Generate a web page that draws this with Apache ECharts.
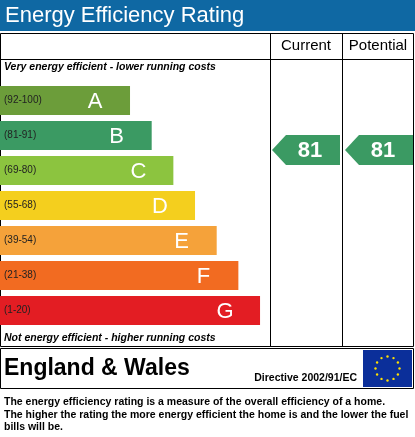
<!DOCTYPE html>
<html><head><meta charset="utf-8">
<script src="https://cdn.jsdelivr.net/npm/echarts@6/dist/echarts.min.js"></script>
<style>html,body{margin:0;padding:0;background:#fff}#c{width:415px;height:437px}</style>
</head><body><div id="c"></div>
<script>
const bands = ['A','B','C','D','E','F','G'];
const ranges = ['(92-100)','(81-91)','(69-80)','(55-68)','(39-54)','(21-38)','(1-20)'];
const rangeLo = [92,81,69,55,39,21,1];
const rangeHi = [100,91,80,68,54,38,20];
const barLengths = [6,7,8,9,10,11,12];
const bandColors = ['#6c9d3a','#3b9a63','#8cc43f','#f4cf1e','#f5a23a','#f26b21','#e31d23'];
const currentRating = 81;
const potentialRating = 81;
const arrowColor = '#3b9a63';

function bandOf(v){ for(let i=0;i<bands.length;i++) if(v>=rangeLo[i]) return i; return 6; }
const F = 'Liberation Sans, Arial, sans-serif';
const chart = echarts.init(document.getElementById('c'));
const arrowData = [[0, bandOf(currentRating), currentRating],[1, bandOf(potentialRating), potentialRating]];
const colX = [272, 345];

chart.setOption({
  animation:false,
  grid:{left:0, top:83, width:415, height:245},
  xAxis:{type:'value', min:0, max:415/21.67, show:false},
  yAxis:{type:'category', data:bands, inverse:true, show:false},
  series:[
    {type:'custom', data:barLengths.map((v,i)=>[v,i]),
     renderItem:function(p,api){
       const i=api.value(1); const end=api.coord([api.value(0),i]); const s=api.coord([0,i]);
       const h=29;
       return {type:'group',children:[
         {type:'rect',shape:{x:s[0],y:end[1]-h/2,width:end[0]-s[0],height:h},style:{fill:bandColors[i]}},
         {type:'text',style:{x:4,y:end[1],text:ranges[i],fill:'#222',font:'10px '+F,verticalAlign:'middle'}},
         {type:'text',style:{x:end[0]-35,y:end[1]+1,text:bands[i],fill:'#fff',font:'22px '+F,align:'center',verticalAlign:'middle'}}
       ]};
     }},
    {type:'custom', data:arrowData,
     renderItem:function(p,api){
       const col=api.value(0), b=api.value(1), v=api.value(2);
       const c=api.coord([0,b]);
       const frac=(rangeHi[b]-v)/(rangeHi[b]-rangeLo[b]);
       const yc=c[1]+(frac-0.5)*29;
       const x0=colX[col], w=68, h=30;
       return {type:'group',children:[
         {type:'polygon',shape:{points:[[x0,yc],[x0+14,yc-h/2],[x0+w,yc-h/2],[x0+w,yc+h/2],[x0+14,yc+h/2]]},style:{fill:arrowColor}},
         {type:'text',style:{x:x0+38,y:yc+1,text:String(v),fill:'#fff',font:'bold 22px '+F,align:'center',verticalAlign:'middle'}}
       ]};
     }}
  ],
  graphic:[
    {type:'rect',shape:{x:0,y:0,width:415,height:31},style:{fill:'#0f68a3'}},
    {type:'text',style:{x:5,y:16,text:'Energy Efficiency Rating',fill:'#fff',font:'22px '+F,verticalAlign:'middle'}},
    {type:'rect',shape:{x:0.5,y:33.5,width:413,height:313},style:{fill:'none',stroke:'#000',lineWidth:1}},
    {type:'line',shape:{x1:0,y1:59.5,x2:414,y2:59.5},style:{stroke:'#000'}},
    {type:'line',shape:{x1:270.5,y1:33,x2:270.5,y2:346},style:{stroke:'#000'}},
    {type:'line',shape:{x1:342.5,y1:33,x2:342.5,y2:346},style:{stroke:'#000'}},
    {type:'text',style:{x:306,y:46,text:'Current',fill:'#000',font:'15px '+F,align:'center',verticalAlign:'middle'}},
    {type:'text',style:{x:378,y:46,text:'Potential',fill:'#000',font:'15px '+F,align:'center',verticalAlign:'middle'}},
    {type:'text',style:{x:4,y:67,text:'Very energy efficient - lower running costs',fill:'#000',font:'italic bold 10.5px '+F,verticalAlign:'middle'}},
    {type:'text',style:{x:4,y:338,text:'Not energy efficient - higher running costs',fill:'#000',font:'italic bold 10.5px '+F,verticalAlign:'middle'}},
    {type:'rect',shape:{x:0.5,y:348.5,width:413,height:40},style:{fill:'none',stroke:'#000',lineWidth:1}},
    {type:'text',style:{x:4,y:369,text:'England & Wales',fill:'#000',font:'bold 23px '+F,verticalAlign:'middle'}},
    {type:'text',style:{x:357,y:378,text:'Directive 2002/91/EC',fill:'#000',font:'bold 10.5px '+F,align:'right',verticalAlign:'middle'}},
    {type:'rect',shape:{x:363,y:350,width:49,height:37},style:{fill:'#0b2f9a'}},
    ...Array.from({length:12},(_,k)=>({type:'circle',shape:{cx:387.5+12*Math.cos(k*Math.PI/6),cy:368.5+12*Math.sin(k*Math.PI/6),r:1.2},style:{fill:'#ffe000'}})),
    {type:'text',style:{x:4,y:396,text:'The energy efficiency rating is a measure of the overall efficiency of a home.\nThe higher the rating the more energy efficient the home is and the lower the fuel\nbills will be.',fill:'#000',font:'bold 10.5px '+F,lineHeight:12.5}}
  ]
});
</script></body></html>
